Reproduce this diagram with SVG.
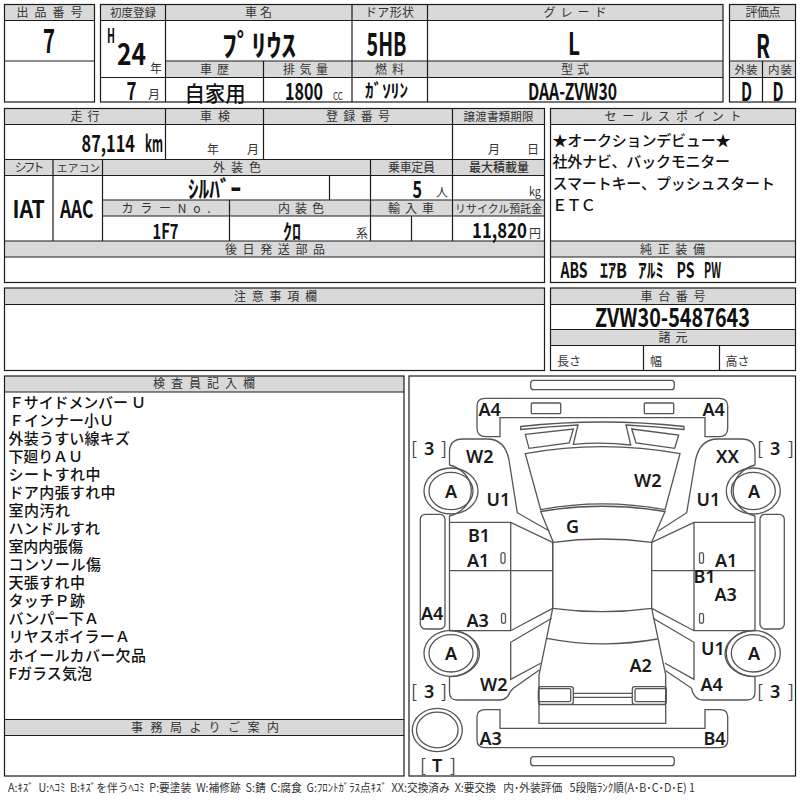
<svg xmlns="http://www.w3.org/2000/svg" width="800" height="800" viewBox="0 0 800 800">
<style>
text{font-family:"Noto Sans CJK JP","Noto Sans",sans-serif;fill:#111}
.h{font-size:12px;fill:#333;text-anchor:middle}
.s{font-size:12px;fill:#333}
.v{font-weight:700;font-size:22px}
.m{font-weight:500;font-size:15px}
.d{font-family:"Noto Sans",sans-serif;font-weight:600;font-size:18px;fill:#1a1a1a}
.br{font-size:18px;fill:#444}
.bar{fill:#d9d9d9;stroke:none}
.t{fill:none;stroke:#1c1c1c;stroke-width:1.2}
.c{fill:none;stroke:#555;stroke-width:1.3}
</style>
<rect width="800" height="800" fill="#fff"/>
<g id="header-bands">
<rect class="bar" x="4.5" y="4.5" width="90" height="16"/>
<rect class="bar" x="100.5" y="4.5" width="622.5" height="16"/>
<rect class="bar" x="729.5" y="4.5" width="66" height="16"/>
<rect class="bar" x="165.5" y="61" width="557.5" height="16.5"/>
<rect class="bar" x="729.5" y="61" width="66" height="16.5"/>
<rect class="bar" x="4.5" y="108.5" width="540" height="16"/>
<rect class="bar" x="4.5" y="159.5" width="540" height="16"/>
<rect class="bar" x="102.5" y="200" width="442" height="16"/>
<rect class="bar" x="4.5" y="241" width="540" height="16"/>
<rect class="bar" x="4.5" y="288" width="540" height="16.5"/>
<rect class="bar" x="550.5" y="108.5" width="245" height="16"/>
<rect class="bar" x="550.5" y="241" width="245" height="16"/>
<rect class="bar" x="550.5" y="288" width="245" height="16.5"/>
<rect class="bar" x="550.5" y="329.5" width="245" height="16"/>
<rect class="bar" x="4.5" y="376" width="399.5" height="16"/>
<rect class="bar" x="4.5" y="719.5" width="399.5" height="16"/>
</g>
<g id="table-lines" class="t">
<rect x="4.5" y="4.5" width="90" height="97.5"/>
<path d="M4.5 20.5H94.5M4.5 61H94.5"/>
<rect x="100.5" y="4.5" width="622.5" height="97.5"/>
<path d="M100.5 20.5H723M165.5 61H723M100.5 77.5H723M165.5 4.5V102M352 4.5V102M427.5 4.5V102M263.5 61V102"/>
<rect x="729.5" y="4.5" width="66" height="97.5"/>
<path d="M729.5 20.5H795.5M729.5 61H795.5M729.5 77.5H795.5M762.5 61V102"/>
<rect x="4.5" y="108.5" width="540" height="174"/>
<path d="M4.5 124.5H544.5M4.5 159.5H544.5M4.5 175.5H544.5M102.5 200H544.5M102.5 216H544.5M4.5 241H544.5M4.5 257H544.5M165.5 108.5V159.5M263.5 108.5V159.5M452.5 108.5V241M53 159.5V241M102.5 159.5V241M329.5 175.5V200M370.5 159.5V241M229.5 200V241M411.5 216V241"/>
<rect x="4.5" y="288" width="540" height="82.5"/>
<path d="M4.5 304.5H544.5"/>
<rect x="550.5" y="108.5" width="245" height="174"/>
<path d="M550.5 124.5H795.5M550.5 241H795.5M550.5 257H795.5"/>
<rect x="550.5" y="288" width="245" height="82.5"/>
<path d="M550.5 304.5H795.5M550.5 329.5H795.5M550.5 345.5H795.5M643.5 345.5V370.5M719.5 345.5V370.5"/>
<rect x="4.5" y="376" width="399.5" height="400"/>
<path d="M4.5 392H404M4.5 719.5H404M4.5 735.5H404"/>
<rect x="409" y="376" width="386.5" height="400"/>
</g>
<g id="header-labels">
<text class="h" x="49.5" y="17" textLength="66">出品番号</text>
<text class="h" x="133" y="17" textLength="46" style="font-size:11.5px">初度登録</text>
<text class="h" x="258.5" y="17" textLength="27">車名</text>
<text class="h" x="389.5" y="17" textLength="49">ドア形状</text>
<text class="h" x="575" y="17" textLength="63">グレード</text>
<text class="h" x="763" y="17" textLength="35">評価点</text>
<text class="h" x="214.5" y="73.5" textLength="29">車歴</text>
<text class="h" x="305.5" y="73.5" textLength="45">排気量</text>
<text class="h" x="389.5" y="73.5" textLength="29">燃料</text>
<text class="h" x="575" y="73.5" textLength="28">型式</text>
<text class="h" x="746" y="73.5" textLength="23" style="font-size:11.5px">外装</text>
<text class="h" x="780" y="73.5" textLength="24" style="font-size:11.5px">内装</text>
<text class="h" x="85" y="121" textLength="29">走行</text>
<text class="h" x="215" y="121" textLength="30">車検</text>
<text class="h" x="358" y="121" textLength="64">登録番号</text>
<text class="h" x="498.5" y="121" textLength="70" style="font-size:11.5px">譲渡書類期限</text>
<text class="h" x="673" y="121" textLength="137">セールスポイント</text>
<text class="h" x="29.5" y="172" textLength="30">シフト</text>
<text class="h" x="78.5" y="172" textLength="43" style="font-size:10.5px">エアコン</text>
<text class="h" x="237" y="172" textLength="48">外装色</text>
<text class="h" x="411.5" y="172" textLength="47">乗車定員</text>
<text class="h" x="499" y="172" textLength="60" style="font-weight:500">最大積載量</text>
<text class="h" x="166" y="212.5" textLength="89">カラーNo.</text>
<text class="h" x="301" y="212.5" textLength="46">内装色</text>
<text class="h" x="411" y="212.5" textLength="46">輸入車</text>
<text class="h" x="498.5" y="212.5" textLength="87" style="font-size:10.8px">リサイクル預託金</text>
<text class="h" x="275" y="253.5" textLength="100">後日発送部品</text>
<text class="h" x="672.5" y="253.5" textLength="65">純正装備</text>
<text class="h" x="275.5" y="300.5" textLength="83">注意事項欄</text>
<text class="h" x="673" y="300.5" textLength="65">車台番号</text>
<text class="h" x="673" y="341.5" textLength="29">諸元</text>
<text class="h" x="204" y="388" textLength="102">検査員記入欄</text>
<text class="h" x="205" y="732" textLength="148">事務局よりご案内</text>
</g>
<g id="values">
<text class="v" x="43" y="53" textLength="12" lengthAdjust="spacingAndGlyphs" style="font-size:33px">7</text>
<text class="v" x="107" y="43" textLength="8" lengthAdjust="spacingAndGlyphs" style="font-size:20px">H</text>
<text class="v" x="117" y="65" textLength="29" lengthAdjust="spacingAndGlyphs" style="font-size:30px">24</text>
<text class="s" x="150" y="73">年</text>
<text class="v" x="126.5" y="100" textLength="10" lengthAdjust="spacingAndGlyphs" style="font-size:25px">7</text>
<text class="s" x="148" y="99">月</text>
<text class="v" x="222" y="56" textLength="74" lengthAdjust="spacingAndGlyphs" style="font-size:30px">ﾌﾟﾘｳｽ</text>
<text class="v" x="366.5" y="56" textLength="40" lengthAdjust="spacingAndGlyphs" style="font-size:32px">5HB</text>
<text class="v" x="568" y="55" textLength="12" lengthAdjust="spacingAndGlyphs" style="font-size:31px">L</text>
<text class="v" x="756" y="58" textLength="14" lengthAdjust="spacingAndGlyphs" style="font-size:32px">R</text>
<text class="v" x="184.5" y="100.5" textLength="61" lengthAdjust="spacingAndGlyphs" style="font-size:21px;font-weight:500">自家用</text>
<text class="v" x="285" y="100" textLength="38" lengthAdjust="spacingAndGlyphs" style="font-size:23px">1800</text>
<text class="s" x="333" y="100" textLength="10" lengthAdjust="spacingAndGlyphs" style="font-size:11px">CC</text>
<text class="v" x="365" y="98" textLength="43" lengthAdjust="spacingAndGlyphs" style="font-size:19px">ｶﾞｿﾘﾝ</text>
<text class="v" x="528" y="100" textLength="89" lengthAdjust="spacingAndGlyphs" style="font-size:23px">DAA-ZVW30</text>
<text class="v" x="741" y="101" textLength="11" lengthAdjust="spacingAndGlyphs" style="font-size:26px">D</text>
<text class="v" x="772.5" y="101" textLength="11" lengthAdjust="spacingAndGlyphs" style="font-size:26px">D</text>
<text class="v" x="81.5" y="151.5" textLength="53.5" lengthAdjust="spacingAndGlyphs" style="font-size:23px">87,114</text>
<text class="v" x="145" y="151.5" textLength="18" lengthAdjust="spacingAndGlyphs" style="font-size:23px">km</text>
<text class="s" x="207" y="154">年</text>
<text class="s" x="247" y="154">月</text>
<text class="s" x="488" y="154">月</text>
<text class="s" x="527" y="154">日</text>
<text class="v" x="12.5" y="217.5" textLength="32.5" lengthAdjust="spacingAndGlyphs" style="font-size:24px">IAT</text>
<text class="v" x="60" y="217.5" textLength="33.5" lengthAdjust="spacingAndGlyphs" style="font-size:24px">AAC</text>
<text class="v" x="188" y="198" textLength="53" lengthAdjust="spacingAndGlyphs" style="font-size:24px">ｼﾙﾊﾞｰ</text>
<text class="v" x="412.5" y="198" textLength="9.5" lengthAdjust="spacingAndGlyphs" style="font-size:23px">5</text>
<text class="s" x="436" y="197">人</text>
<text class="s" x="529" y="196" textLength="12" lengthAdjust="spacingAndGlyphs">kg</text>
<text class="v" x="152.5" y="239" textLength="26" lengthAdjust="spacingAndGlyphs" style="font-size:21px">1F7</text>
<text class="v" x="283" y="239" textLength="18" lengthAdjust="spacingAndGlyphs" style="font-size:21px">ｸﾛ</text>
<text class="s" x="356" y="238">系</text>
<text class="v" x="472" y="238" textLength="55" lengthAdjust="spacingAndGlyphs" style="font-size:21px">11,820</text>
<text class="s" x="529" y="238">円</text>
<text class="v" x="560.5" y="277.5" textLength="27" lengthAdjust="spacingAndGlyphs" style="font-size:21px">ABS</text>
<text class="v" x="600" y="277.5" textLength="27" lengthAdjust="spacingAndGlyphs" style="font-size:20px">ｴｱB</text>
<text class="v" x="638" y="277.5" textLength="26" lengthAdjust="spacingAndGlyphs" style="font-size:20px">ｱﾙﾐ</text>
<text class="v" x="676.5" y="277.5" textLength="18" lengthAdjust="spacingAndGlyphs" style="font-size:21px">PS</text>
<text class="v" x="704" y="277.5" textLength="17" lengthAdjust="spacingAndGlyphs" style="font-size:21px">PW</text>
<text class="v" x="595" y="327" textLength="155" lengthAdjust="spacingAndGlyphs" style="font-size:26px">ZVW30-5487643</text>
<text class="s" x="557" y="366">長さ</text>
<text class="s" x="650" y="366">幅</text>
<text class="s" x="725.5" y="366">高さ</text>
</g>
<g id="sale-points">
<text class="m" x="552.5" y="146" textLength="178">★オークションデビュー★</text>
<text class="m" x="552.5" y="167" textLength="177.5">社外ナビ、バックモニター</text>
<text class="m" x="552.5" y="189" textLength="222.5">スマートキー、プッシュスタート</text>
<text class="m" x="552" y="211" textLength="44" style="font-size:15.5px">ＥＴＣ</text>
</g>
<g id="inspector-notes">
<text class="m" x="9" y="407.5" textLength="137">Ｆサイドメンバー Ｕ</text>
<text class="m" x="9" y="425.6" textLength="105">Ｆインナー小Ｕ</text>
<text class="m" x="8.5" y="443.6" textLength="121.5">外装うすい線キズ</text>
<text class="m" x="8.5" y="461.7" textLength="74.5">下廻りＡＵ</text>
<text class="m" x="8.5" y="479.8" textLength="92">シートすれ中</text>
<text class="m" x="8.5" y="497.9" textLength="107">ドア内張すれ中</text>
<text class="m" x="8.5" y="515.9" textLength="61.5">室内汚れ</text>
<text class="m" x="8.5" y="534" textLength="91.5">ハンドルすれ</text>
<text class="m" x="8.5" y="552.1" textLength="74.5">室内内張傷</text>
<text class="m" x="8.5" y="570.1" textLength="92.5">コンソール傷</text>
<text class="m" x="8.5" y="588.2" textLength="76.5">天張すれ中</text>
<text class="m" x="8.5" y="606.3" textLength="76.5">タッチＰ跡</text>
<text class="m" x="8.5" y="624.3" textLength="90.5">バンパー下Ａ</text>
<text class="m" x="8.5" y="642.4" textLength="121.5">リヤスポイラーＡ</text>
<text class="m" x="8.5" y="660.5" textLength="137.5">ホイールカバー欠品</text>
<text class="m" x="8.5" y="678.5" textLength="83.5">Fガラス気泡</text>
</g>
<g id="car" class="c">
<rect x="530.7" y="380.3" width="143.6" height="9.4" rx="3"/>
<path d="M500 436.7H486Q477 436.7 477 428V406Q477 398.3 485 398.3H719Q727.7 398.3 727.7 406V428Q727.7 436.7 719 436.7H705V417.7H500Z"/>
<rect x="531.3" y="403" width="29.4" height="10.7" rx="1"/>
<rect x="644.3" y="403" width="29.4" height="10.7" rx="1"/>
<path d="M520.7 426.5Q602 417.5 684 426.5L684 429.5Q655 426.5 626 425L630.7 445Q602 441.5 573.3 444.3L578 425Q549 426.5 520.7 429.5Z"/>
<path d="M525.3 434.3L573.3 429L569.3 443L529 448.3ZM631.7 429L678.7 435L674.7 448.3L636 443Z"/>
<path d="M525.3 453.7Q602 439.7 680 453.7L665 509.7Q602 498 540.7 509.7Z"/>
<path d="M540.7 511.5Q602 501 665 511.5L651.7 542.3Q602 535.7 553.3 542.3Z"/>
<path d="M449.5 465V452Q449.5 439 463 439H487Q505 439 509 460L517.3 512.7L549.3 531"/>
<path d="M755 465V452Q755 439 741.5 439H718Q700 439 695.5 460L686.7 512.7L658.3 531"/>
<path d="M449.5 465A30 26.5 0 0 1 449.5 516M755 465A30 26.5 0 0 0 755 516"/>
<path d="M449.5 630.7A30 23 0 0 1 449.5 676.7M755 630.7A30 23 0 0 0 755 676.7"/>
<ellipse cx="451" cy="491" rx="27" ry="23"/><ellipse cx="451" cy="491" rx="22" ry="18.7"/>
<ellipse cx="753.3" cy="491" rx="27" ry="23"/><ellipse cx="753.3" cy="491" rx="22" ry="18.7"/>
<ellipse cx="451" cy="653.3" rx="27" ry="23"/><ellipse cx="451" cy="653.3" rx="22" ry="18.7"/>
<ellipse cx="753.3" cy="653.3" rx="27" ry="23"/><ellipse cx="753.3" cy="653.3" rx="22" ry="18.7"/>
<ellipse cx="437.3" cy="730" rx="25" ry="21.7"/><ellipse cx="437.3" cy="730" rx="20.8" ry="17.8"/>
<rect x="420.3" y="514.3" width="24.7" height="114.7" rx="5"/>
<rect x="760" y="514.3" width="24.3" height="114.7" rx="5"/>
<path d="M449.5 516V630.7H510.7L552.7 608.3V542.3L510.7 522.3H449.5M510.7 522.3V630.7M449.5 570.7H552.7"/>
<path d="M755 516V630.7H694L651.7 608.3V542.3L694 522.3H755M694 522.3V630.7M651.7 570.7H755"/>
<path d="M552.7 542.3V608.3Q602 615 651.7 608.3"/>
<path d="M552.7 608.3L539 675V723.3H665.7V675L651.7 608.3M546.7 638.3Q602 649 657.3 639M539 704.7H665.7"/>
<path d="M551.7 618.3L510.7 642.3V679.3L540.7 663.3M653 618.3L694 642.3V679.3L665 663.3"/>
<path d="M449.5 676.7V692Q449.5 700 457 700H500Q507 700 510 692L513 688.5L539.3 670"/>
<path d="M755 676.7V692Q755 700 747 700H703Q696 700 692.5 692L691.7 688.3L665.7 670.7"/>
<rect x="538.5" y="686.7" width="34.8" height="17.6" rx="2.5"/>
<rect x="538.5" y="688.7" width="32.2" height="13" rx="1.5"/>
<rect x="632.3" y="686.7" width="34" height="17.6" rx="2.5"/>
<rect x="635" y="688.7" width="31.3" height="13" rx="1.5"/>
<path d="M573.3 693.3H632.3M573.3 697.3H632.3"/>
<path d="M500 709.7H485Q477 709.7 477 717V740Q477 747.7 485 747.7H720Q727.7 747.7 727.7 740V717Q727.7 709.7 720 709.7H705V728.3H500Z"/>
<rect x="530.7" y="756.7" width="143.6" height="9" rx="3"/>
<rect x="501" y="552.7" width="4" height="10.6" rx="2"/>
<rect x="699.5" y="552.7" width="4" height="10.6" rx="2"/>
<rect x="501.5" y="613.3" width="4" height="10" rx="2"/>
<rect x="699.5" y="613.3" width="4" height="10" rx="2"/>
</g>
<g id="car-labels">
<text class="d" x="478.5" y="416">A4</text>
<text class="d" x="702.5" y="416">A4</text>
<text class="d" x="466" y="463.3">W2</text>
<text class="d" x="716" y="463.3">XX</text>
<text class="d" x="445" y="497.7">A</text>
<text class="d" x="748" y="497.7">A</text>
<text class="d" x="445" y="660">A</text>
<text class="d" x="748" y="660">A</text>
<text class="d" x="486.5" y="506">U1</text>
<text class="d" x="696.5" y="506">U1</text>
<text class="d" x="634" y="487.3">W2</text>
<text class="d" x="566" y="532.7">G</text>
<text class="d" x="468" y="541.7">B1</text>
<text class="d" x="467" y="566.7">A1</text>
<text class="d" x="715" y="566.7">A1</text>
<text class="d" x="693.5" y="582.5">B1</text>
<text class="d" x="714.5" y="600.7">A3</text>
<text class="d" x="421" y="620">A4</text>
<text class="d" x="466.5" y="626.7">A3</text>
<text class="d" x="701" y="655">U1</text>
<text class="d" x="629.5" y="671.7">A2</text>
<text class="d" x="480" y="691">W2</text>
<text class="d" x="700.5" y="691">A4</text>
<text class="d" x="479.5" y="745">A3</text>
<text class="d" x="703.5" y="745">B4</text>
<text class="br" x="411" y="455">[</text><text class="d" x="424" y="455">3</text><text class="br" x="441" y="455">]</text>
<text class="br" x="757" y="455">[</text><text class="d" x="770" y="455">3</text><text class="br" x="788" y="455">]</text>
<text class="br" x="411" y="698">[</text><text class="d" x="424" y="698">3</text><text class="br" x="441" y="698">]</text>
<text class="br" x="757" y="698">[</text><text class="d" x="770" y="698">3</text><text class="br" x="788" y="698">]</text>
<text class="br" x="420" y="772">[</text><text class="d" x="432" y="772">T</text><text class="br" x="450" y="772">]</text>
</g>
<text id="legend" x="8" y="792" textLength="687" lengthAdjust="spacingAndGlyphs" style="font-size:11.5px;fill:#333;white-space:pre">A:ｷｽﾞ  U:ﾍｺﾐ  B:ｷｽﾞを伴うﾍｺﾐ  P:要塗装  W:補修跡  S:錆  C:腐食  G:ﾌﾛﾝﾄｶﾞﾗｽ点ｷｽﾞ  XX:交換済み  X:要交換   内･外装評価   5段階ﾗﾝｸ順(A･B･C･D･E) 1</text>
</svg>
